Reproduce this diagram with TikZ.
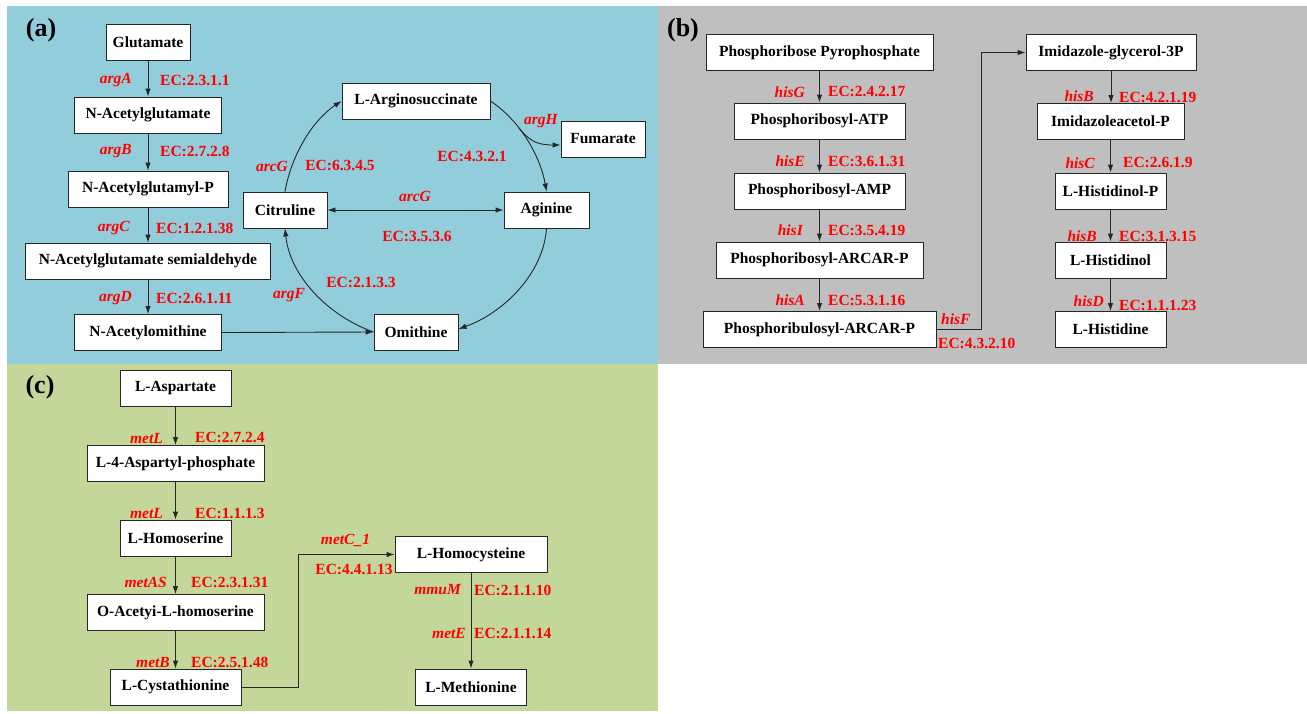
\documentclass[tikz,border=0pt]{standalone}
\usepackage{fontspec}
\setmainfont{Liberation Serif}
\usetikzlibrary{arrows.meta}
\definecolor{bga}{HTML}{92CDDC}
\definecolor{bgb}{HTML}{BFBFBF}
\definecolor{bgc}{HTML}{C4D79B}
\definecolor{labred}{HTML}{FF0000}
\begin{document}
\begin{tikzpicture}[x=1pt,y=-1pt,
  box/.style={draw=black!85,line width=0.9pt,fill=white,minimum height=36pt,inner sep=0pt,
    font=\bfseries\fontsize{15.5}{18}\selectfont},
  gene/.style={text=labred,inner sep=0pt,font=\bfseries\itshape\fontsize{15.5}{18}\selectfont},
  ec/.style={text=labred,inner sep=0pt,font=\bfseries\fontsize{15.5}{18}\selectfont},
  plabel/.style={inner sep=0pt,font=\bfseries\fontsize{26}{30}\selectfont},
  arr/.style={draw=black!85,line width=0.9pt,-{Latex[length=8pt,width=5.5pt]}},
  darr/.style={draw=black!85,line width=0.9pt,{Latex[length=8pt,width=5.5pt]}-{Latex[length=8pt,width=5.5pt]}}]
\useasboundingbox (0,0) rectangle (1307,713);
% backgrounds
\fill[bga] (7,6) rectangle (658,364);
\fill[bgb] (658,6) rectangle (1307,364);
\fill[bgc] (7,364) rectangle (658,711);

% ================= panel (a)
\node[plabel] (la) at (41,30) {(a)};
\node[box,minimum width=84pt] (glu) at (148,42.5) {Glutamate};
\node[box,minimum width=147pt] (nag) at (148,115) {N-Acetylglutamate};
\node[box,minimum width=160pt] (nagp) at (148,189) {N-Acetylglutamyl-P};
\node[box,minimum width=245pt] (nags) at (148,261) {N-Acetylglutamate semialdehyde};
\node[box,minimum width=147pt] (nao) at (148,332.5) {N-Acetylomithine};
\node[box,minimum width=84pt] (cit) at (285,210) {Citruline};
\node[box,minimum width=148pt] (asuc) at (416,101) {L-Arginosuccinate};
\node[box,minimum width=84pt] (fum) at (603,139) {Fumarate};
\node[box,minimum width=85pt] (agi) at (546.5,210) {Aginine};
\node[box,minimum width=84pt] (omi) at (416,332) {Omithine};

\draw[arr] (glu.south) -- (nag.north);
\draw[arr] (nag.south) -- (nagp.north);
\draw[arr] (nagp.south) -- (nags.north);
\draw[arr] (nags.south) -- (nao.north);
\draw[arr] (nao.east) -- (omi.west);

\draw[arr] (cit.north) .. controls +(6,-35) and +(-30,20) .. (asuc.west);
\draw[arr] (asuc.east) .. controls +(30,20) and +(-6,-35) .. (agi.north) coordinate[pos=0.36] (br);
\draw[arr] (br) .. controls +(10,12) and +(-25,0) .. ([yshift=-6pt]fum.west);
\draw[arr] (agi.south) .. controls +(-3,45) and +(45,-16) .. ([yshift=3pt]omi.east);
\draw[arr] (omi.west) .. controls +(-45,-16) and +(5,48) .. (cit.south);
\draw[darr] (cit.east) -- (agi.west);

\node[gene,anchor=east] (gA) at (132,80) {argA};
\node[ec,anchor=west] (eA) at (160,80) {EC:2.3.1.1};
\node[gene,anchor=east] (gB) at (132,151) {argB};
\node[ec,anchor=west] (eB) at (160,151) {EC:2.7.2.8};
\node[gene,anchor=east] (gC) at (130,228) {argC};
\node[ec,anchor=west] (eC) at (156,228) {EC:1.2.1.38};
\node[gene,anchor=east] (gD) at (132,298) {argD};
\node[ec,anchor=west] (eD) at (156,298) {EC:2.6.1.11};
\node[gene] (gG1) at (272,166) {arcG};
\node[ec] (eG1) at (340,165) {EC:6.3.4.5};
\node[gene] (gH) at (541,121) {argH};
\node[ec] (eH) at (472,156) {EC:4.3.2.1};
\node[gene] (gG2) at (415,196) {arcG};
\node[ec] (eG2) at (417,236) {EC:3.5.3.6};
\node[ec] (eF) at (361,282) {EC:2.1.3.3};
\node[gene] (gF) at (289,295) {argF};

% ================= panel (b)
\node[plabel] (lb) at (683,30) {(b)};
\node[box,minimum width=227pt] (prpp) at (819.5,52.5) {Phosphoribose Pyrophosphate};
\node[box,minimum width=171pt] (pratp) at (819.5,121) {Phosphoribosyl-ATP};
\node[box,minimum width=171pt] (pramp) at (819.5,191) {Phosphoribosyl-AMP};
\node[box,minimum width=207pt] (prarc) at (819.5,260) {Phosphoribosyl-ARCAR-P};
\node[box,minimum width=233pt] (prularc) at (819.5,329.5) {Phosphoribulosyl-ARCAR-P};
\node[box,minimum width=170pt] (igp) at (1111,52.5) {Imidazole-glycerol-3P};
\node[box,minimum width=147pt] (iap) at (1110.5,121.5) {Imidazoleacetol-P};
\node[box,minimum width=111pt] (hisp) at (1110.5,191) {L-Histidinol-P};
\node[box,minimum width=111pt] (hisol) at (1110.5,260) {L-Histidinol};
\node[box,minimum width=111pt] (his) at (1110.5,329.5) {L-Histidine};

\draw[arr] (prpp.south) -- (pratp.north);
\draw[arr] (pratp.south) -- (pramp.north);
\draw[arr] (pramp.south) -- (prarc.north);
\draw[arr] (prarc.south) -- (prularc.north);
\draw[arr] (prularc.east) -- ++(45,0) |- (igp.west);
\draw[arr] (igp.south) -- (igp.south |- iap.north);
\draw[arr] (iap.south) -- (hisp.north);
\draw[arr] (hisp.south) -- (hisol.north);
\draw[arr] (hisol.south) -- (his.north);

\node[gene,anchor=east] (gbG) at (805,92) {hisG};
\node[ec,anchor=west] (ebG) at (828,91) {EC:2.4.2.17};
\node[gene,anchor=east] (gbE) at (805,161) {hisE};
\node[ec,anchor=west] (ebE) at (828,161) {EC:3.6.1.31};
\node[gene,anchor=east] (gbI) at (803,230) {hisI};
\node[ec,anchor=west] (ebI) at (828,230) {EC:3.5.4.19};
\node[gene,anchor=east] (gbA) at (805,300) {hisA};
\node[ec,anchor=west] (ebA) at (828,300) {EC:5.3.1.16};
\node[gene,anchor=west] (gbF) at (941,319) {hisF};
\node[ec,anchor=west] (ebF) at (938,343) {EC:4.3.2.10};
\node[gene,anchor=east] (gbB1) at (1094,96) {hisB};
\node[ec,anchor=west] (ebB1) at (1119,97) {EC:4.2.1.19};
\node[gene,anchor=east] (gbC) at (1095,163) {hisC};
\node[ec,anchor=west] (ebC) at (1123,162) {EC:2.6.1.9};
\node[gene,anchor=east] (gbB2) at (1097,236) {hisB};
\node[ec,anchor=west] (ebB2) at (1119,236) {EC:3.1.3.15};
\node[gene,anchor=east] (gbD) at (1104,301) {hisD};
\node[ec,anchor=west] (ebD) at (1119,305) {EC:1.1.1.23};

% ================= panel (c)
\node[plabel] (lc) at (40,387) {(c)};
\node[box,minimum width=111pt] (asp) at (175.5,388.5) {L-Aspartate};
\node[box,minimum width=177pt] (asp4) at (175.5,463.5) {L-4-Aspartyl-phosphate};
\node[box,minimum width=111pt] (hom) at (175.5,538) {L-Homoserine};
\node[box,minimum width=177pt] (oah) at (175.5,612.5) {O-Acetyi-L-homoserine};
\node[box,minimum width=131pt] (cys) at (175.5,687) {L-Cystathionine};
\node[box,minimum width=152pt] (hcy) at (471,554.5) {L-Homocysteine};
\node[box,minimum width=111pt] (met) at (471,687) {L-Methionine};

\draw[arr] (asp.south) -- (asp4.north);
\draw[arr] (asp4.south) -- (hom.north);
\draw[arr] (hom.south) -- (oah.north);
\draw[arr] (oah.south) -- (cys.north);
\draw[arr] (cys.east) -- ++(57,0) |- (hcy.west);
\draw[arr] (hcy.south) -- (met.north);

\node[gene,anchor=east] (gcL1) at (163,438) {metL};
\node[ec,anchor=west] (ecL1) at (195,437) {EC:2.7.2.4};
\node[gene,anchor=east] (gcL2) at (163,513) {metL};
\node[ec,anchor=west] (ecL2) at (195,513) {EC:1.1.1.3};
\node[gene,anchor=east] (gcAS) at (167,582) {metAS};
\node[ec,anchor=west] (ecAS) at (191,582) {EC:2.3.1.31};
\node[gene,anchor=east] (gcB) at (170,662) {metB};
\node[ec,anchor=west] (ecB) at (191,662) {EC:2.5.1.48};
\node[gene] (gcC) at (345.5,540) {metC\_1};
\node[ec] (ecC) at (354,569) {EC:4.4.1.13};
\node[gene,anchor=east] (gcM) at (461,590) {mmuM};
\node[ec,anchor=west] (ecM) at (474,590) {EC:2.1.1.10};
\node[gene,anchor=east] (gcE) at (466,633) {metE};
\node[ec,anchor=west] (ecE) at (474,633) {EC:2.1.1.14};
\end{tikzpicture}
\end{document}
